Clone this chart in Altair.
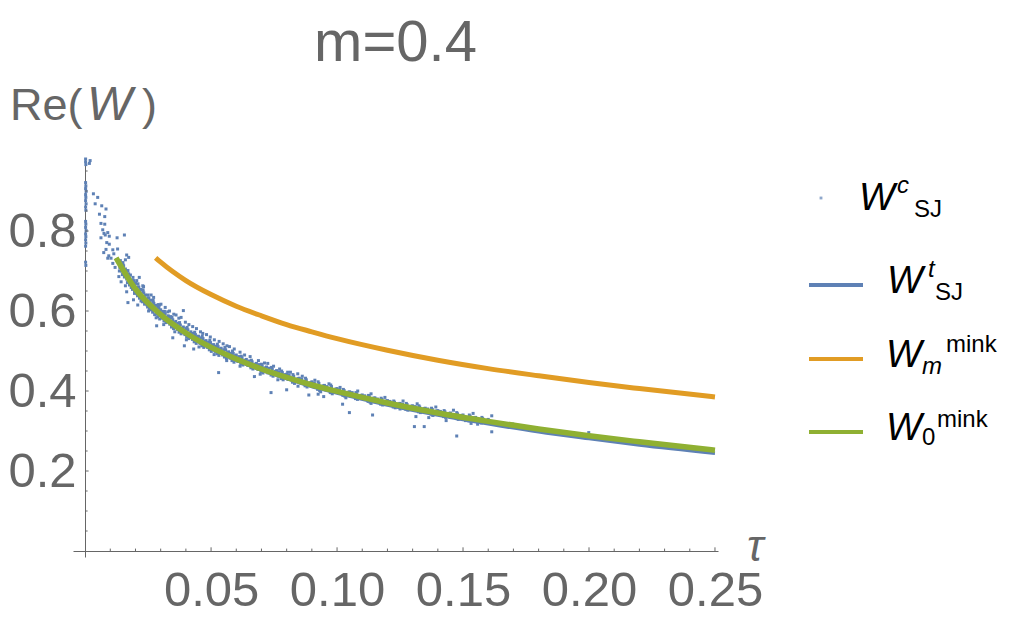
import altair as alt
import pandas as pd

FONT = "Liberation Sans"
GRAY = "#666666"
BLUE = "#5E81B5"
ORANGE = "#E19C24"
GREEN = "#8FB032"

# ---------------- data ----------------
title_text = "m=0.4"

# W_0^mink (green)
tau_w0 = [0.0123, 0.02, 0.03, 0.04, 0.05, 0.06, 0.07, 0.08, 0.09, 0.10,
          0.12, 0.14, 0.16, 0.18, 0.20, 0.22, 0.25]
w0_mink = [0.733, 0.655, 0.591, 0.545, 0.509, 0.480, 0.455, 0.434, 0.415, 0.399,
           0.370, 0.345, 0.324, 0.305, 0.288, 0.273, 0.252]

# W^t_SJ (blue)
tau_t = [0.0123, 0.02, 0.03, 0.04, 0.05, 0.06, 0.07, 0.08, 0.09, 0.10,
         0.12, 0.14, 0.16, 0.18, 0.20, 0.22, 0.25]
wt_sj = [0.732, 0.654, 0.589, 0.543, 0.507, 0.477, 0.452, 0.431, 0.411, 0.395,
         0.365, 0.340, 0.318, 0.298, 0.281, 0.265, 0.2445]

# W_m^mink (orange)
tau_m = [0.028, 0.03, 0.04, 0.05, 0.06, 0.07, 0.08, 0.09, 0.10, 0.12,
         0.14, 0.16, 0.18, 0.20, 0.22, 0.25]
wm_mink = [0.733, 0.722, 0.676, 0.641, 0.612, 0.588, 0.566, 0.548, 0.531, 0.502,
           0.477, 0.456, 0.438, 0.421, 0.406, 0.385]

# W^c_SJ scatter (tau, W)
scatter_axis = [
    (0.0002, 0.980), (0.0002, 0.973), (0.0003, 0.966), (0.0020, 0.976), (0.0017, 0.969),
    (0.0002, 0.921), (0.0003, 0.913), (0.0002, 0.906), (0.0004, 0.899), (0.0002, 0.891),
    (0.0003, 0.884), (0.0002, 0.876), (0.0004, 0.868), (0.0002, 0.860), (0.0003, 0.852),
    (0.0002, 0.824), (0.0003, 0.817), (0.0002, 0.809), (0.0004, 0.801), (0.0002, 0.793),
    (0.0003, 0.786), (0.0002, 0.778), (0.0003, 0.770), (0.0002, 0.762),
    (0.0002, 0.722), (0.0003, 0.714),
]
scatter_head = [
    (0.0033, 0.893), (0.0050, 0.884), (0.0040, 0.868), (0.0066, 0.863), (0.0083, 0.855),
    (0.0057, 0.842), (0.0078, 0.836), (0.0063, 0.819), (0.0078, 0.817), (0.0070, 0.803),
    (0.0090, 0.796), (0.0075, 0.794), (0.0080, 0.790), (0.0096, 0.787), (0.0063, 0.783),
    (0.0127, 0.783), (0.0156, 0.790), (0.0086, 0.771), (0.0096, 0.767), (0.0074, 0.746),
    (0.0083, 0.754), (0.0110, 0.753), (0.0129, 0.755), (0.0094, 0.738), (0.0114, 0.743),
    (0.0103, 0.732), (0.0090, 0.732), (0.0110, 0.719), (0.0165, 0.740), (0.0173, 0.734),
    (0.0160, 0.728), (0.0119, 0.709), (0.0150, 0.713), (0.0136, 0.700), (0.0163, 0.700),
    (0.0134, 0.686), (0.0150, 0.693), (0.0143, 0.673), (0.0176, 0.678), (0.0160, 0.663),
    (0.0183, 0.659), (0.0200, 0.669), (0.0215, 0.684), (0.0165, 0.648), (0.0196, 0.644),
    (0.0222, 0.653), (0.0229, 0.663), (0.0170, 0.621), (0.0192, 0.628), (0.0209, 0.615),
    (0.0229, 0.636), (0.0242, 0.623), (0.0255, 0.608), (0.0262, 0.603), (0.0282, 0.603),
    (0.0295, 0.615), (0.0288, 0.594), (0.0308, 0.596), (0.0328, 0.598), (0.0361, 0.590),
    (0.0390, 0.601),
]
scatter_band = [
    (0.0140, 0.726), (0.0143, 0.716), (0.0138, 0.708), (0.0145, 0.700), (0.0150, 0.715),
    (0.0160, 0.705), (0.0158, 0.696), (0.0163, 0.688), (0.0165, 0.680), (0.0155, 0.699), (0.0168, 0.700),
    (0.0180, 0.690), (0.0178, 0.678), (0.0183, 0.668), (0.0185, 0.660), (0.0175, 0.684), (0.0188, 0.676),
    (0.0200, 0.670), (0.0198, 0.660), (0.0203, 0.652), (0.0206, 0.643), (0.0195, 0.664), (0.0210, 0.660),
    (0.0220, 0.654), (0.0218, 0.645), (0.0223, 0.637), (0.0226, 0.628), (0.0215, 0.650), (0.0230, 0.648),
    (0.0240, 0.640), (0.0238, 0.631), (0.0243, 0.623), (0.0246, 0.615), (0.0235, 0.636), (0.0250, 0.633),
    (0.0260, 0.627), (0.0258, 0.619), (0.0263, 0.611), (0.0266, 0.604), (0.0255, 0.623), (0.0270, 0.622),
    (0.0280, 0.614), (0.0278, 0.607), (0.0283, 0.599), (0.0286, 0.593), (0.0275, 0.611), (0.0290, 0.610),
    (0.0300, 0.603), (0.0298, 0.596), (0.0303, 0.588), (0.0306, 0.582), (0.0295, 0.600), (0.0310, 0.599),
    (0.0330, 0.588), (0.0328, 0.581), (0.0333, 0.573), (0.0336, 0.567), (0.0325, 0.585), (0.0340, 0.583),
    (0.0360, 0.574), (0.0358, 0.567), (0.0363, 0.559), (0.0366, 0.554), (0.0355, 0.571), (0.0370, 0.569),
    (0.0390, 0.560), (0.0388, 0.554), (0.0393, 0.546), (0.0396, 0.541), (0.0385, 0.557), (0.0400, 0.556),
    (0.0420, 0.548), (0.0418, 0.542), (0.0423, 0.534), (0.0426, 0.529), (0.0415, 0.545), (0.0430, 0.544),
    (0.0450, 0.537), (0.0448, 0.531), (0.0453, 0.523), (0.0456, 0.519), (0.0445, 0.534), (0.0460, 0.533),
    (0.0480, 0.526), (0.0478, 0.521), (0.0483, 0.513), (0.0486, 0.509), (0.0475, 0.524), (0.0490, 0.522),
    (0.0510, 0.516), (0.0508, 0.511), (0.0513, 0.503), (0.0516, 0.499), (0.0505, 0.514), (0.0520, 0.512),
    (0.0540, 0.507), (0.0538, 0.502), (0.0543, 0.494), (0.0546, 0.490), (0.0535, 0.505), (0.0550, 0.503),
    (0.0570, 0.498), (0.0568, 0.493), (0.0573, 0.485), (0.0576, 0.482), (0.0565, 0.496), (0.0580, 0.494),
    (0.0600, 0.490), (0.0598, 0.485), (0.0603, 0.477), (0.0606, 0.474), (0.0595, 0.488), (0.0610, 0.486),
    (0.0640, 0.479), (0.0638, 0.474), (0.0643, 0.467), (0.0646, 0.464), (0.0635, 0.477), (0.0650, 0.475),
    (0.0680, 0.469), (0.0678, 0.464), (0.0683, 0.457), (0.0686, 0.454), (0.0675, 0.467), (0.0690, 0.466),
    (0.0720, 0.460), (0.0718, 0.455), (0.0723, 0.448), (0.0726, 0.445), (0.0715, 0.458), (0.0730, 0.457),
    (0.0760, 0.451), (0.0758, 0.446), (0.0763, 0.439), (0.0766, 0.437), (0.0755, 0.449), (0.0770, 0.448),
    (0.0800, 0.442), (0.0798, 0.438), (0.0803, 0.431), (0.0806, 0.429), (0.0795, 0.441), (0.0810, 0.440),
    (0.0850, 0.432), (0.0848, 0.428), (0.0853, 0.422), (0.0856, 0.420), (0.0845, 0.431), (0.0860, 0.430),
    (0.0900, 0.423), (0.0898, 0.419), (0.0903, 0.413), (0.0906, 0.411), (0.0895, 0.421), (0.0910, 0.420),
    (0.0950, 0.414), (0.0948, 0.410), (0.0953, 0.405), (0.0956, 0.403), (0.0945, 0.413), (0.0960, 0.411),
    (0.1000, 0.406), (0.0998, 0.402), (0.1003, 0.397), (0.1006, 0.395), (0.0995, 0.405), (0.1010, 0.403),
    (0.1050, 0.398), (0.1048, 0.394), (0.1053, 0.389), (0.1056, 0.387), (0.1045, 0.397), (0.1060, 0.396),
    (0.1100, 0.390), (0.1098, 0.387), (0.1103, 0.382), (0.1106, 0.380), (0.1095, 0.389), (0.1110, 0.388),
    (0.1150, 0.383), (0.1148, 0.379), (0.1153, 0.374), (0.1156, 0.373), (0.1145, 0.382), (0.1160, 0.380),
    (0.1200, 0.376), (0.1198, 0.373), (0.1203, 0.368), (0.1206, 0.366), (0.1195, 0.375), (0.1210, 0.374),
    (0.1250, 0.369), (0.1248, 0.366), (0.1253, 0.361), (0.1256, 0.360), (0.1245, 0.368), (0.1260, 0.367),
    (0.1300, 0.363), (0.1298, 0.360), (0.1303, 0.355), (0.1306, 0.354), (0.1295, 0.362), (0.1310, 0.361),
    (0.1350, 0.357), (0.1348, 0.354), (0.1353, 0.349), (0.1356, 0.348), (0.1345, 0.356), (0.1360, 0.355),
    (0.1400, 0.351), (0.1398, 0.348), (0.1403, 0.343), (0.1406, 0.342), (0.1395, 0.350), (0.1410, 0.349),
    (0.1450, 0.345), (0.1448, 0.342), (0.1453, 0.337), (0.1456, 0.336), (0.1445, 0.344),
    (0.1500, 0.340), (0.1498, 0.337), (0.1503, 0.332), (0.1506, 0.331), (0.1495, 0.339),
    (0.1550, 0.334), (0.1548, 0.332), (0.1553, 0.327), (0.1545, 0.333),
    (0.1600, 0.329), (0.1598, 0.327), (0.1603, 0.322),
]
scatter_band_edges = [
    (0.0150, 0.721), (0.0153, 0.713), (0.0148, 0.691), (0.0156, 0.685),
    (0.0170, 0.701), (0.0173, 0.693), (0.0168, 0.671), (0.0176, 0.665),
    (0.0190, 0.684), (0.0193, 0.676), (0.0188, 0.654), (0.0196, 0.648),
    (0.0210, 0.668), (0.0213, 0.660), (0.0208, 0.638), (0.0216, 0.632),
    (0.0230, 0.653), (0.0233, 0.645), (0.0228, 0.623), (0.0236, 0.617),
    (0.0250, 0.640), (0.0253, 0.632), (0.0248, 0.610), (0.0256, 0.604),
    (0.0270, 0.627), (0.0273, 0.619), (0.0268, 0.597), (0.0276, 0.591),
    (0.0290, 0.616), (0.0293, 0.608), (0.0288, 0.586), (0.0296, 0.580),
    (0.0315, 0.599), (0.0318, 0.593), (0.0313, 0.575), (0.0321, 0.571),
    (0.0345, 0.584), (0.0348, 0.578), (0.0343, 0.560), (0.0351, 0.556),
    (0.0375, 0.571), (0.0378, 0.565), (0.0373, 0.547), (0.0381, 0.543),
    (0.0405, 0.559), (0.0408, 0.553), (0.0403, 0.535), (0.0411, 0.531),
    (0.0435, 0.547), (0.0438, 0.541), (0.0433, 0.523), (0.0441, 0.519),
    (0.0465, 0.537), (0.0468, 0.531), (0.0463, 0.513), (0.0471, 0.509),
    (0.0495, 0.527), (0.0498, 0.521), (0.0493, 0.503), (0.0501, 0.499),
    (0.0525, 0.517), (0.0528, 0.511), (0.0523, 0.493), (0.0531, 0.489),
    (0.0555, 0.509), (0.0558, 0.503), (0.0553, 0.485), (0.0561, 0.481),
    (0.0585, 0.500), (0.0588, 0.494), (0.0583, 0.476), (0.0591, 0.472),
    (0.0620, 0.487), (0.0623, 0.483), (0.0618, 0.468), (0.0626, 0.465),
    (0.0660, 0.477), (0.0663, 0.473), (0.0658, 0.458), (0.0666, 0.455),
    (0.0700, 0.467), (0.0703, 0.463), (0.0698, 0.448), (0.0706, 0.445),
    (0.0740, 0.459), (0.0743, 0.455), (0.0738, 0.440), (0.0746, 0.437),
    (0.0780, 0.450), (0.0783, 0.446), (0.0778, 0.431), (0.0786, 0.428),
    (0.0825, 0.441), (0.0828, 0.437), (0.0823, 0.422), (0.0831, 0.419),
    (0.0875, 0.432), (0.0878, 0.428), (0.0873, 0.413), (0.0881, 0.410),
    (0.0925, 0.423), (0.0928, 0.419), (0.0923, 0.404), (0.0931, 0.401),
    (0.0975, 0.415), (0.0978, 0.411), (0.0973, 0.396), (0.0981, 0.393),
    (0.1025, 0.404), (0.1028, 0.401), (0.1023, 0.389), (0.1031, 0.387),
    (0.1075, 0.396), (0.1078, 0.393), (0.1073, 0.381), (0.1081, 0.379),
    (0.1125, 0.389), (0.1128, 0.386), (0.1123, 0.374), (0.1131, 0.372),
    (0.1175, 0.382), (0.1178, 0.379), (0.1173, 0.367), (0.1181, 0.365),
    (0.1225, 0.375), (0.1228, 0.372), (0.1223, 0.360), (0.1231, 0.358),
    (0.1275, 0.369), (0.1278, 0.366), (0.1273, 0.354), (0.1281, 0.352),
    (0.1325, 0.363), (0.1328, 0.360), (0.1323, 0.348), (0.1331, 0.346),
    (0.1375, 0.357), (0.1378, 0.354), (0.1373, 0.342), (0.1381, 0.340),
    (0.1425, 0.351), (0.1428, 0.348), (0.1423, 0.336), (0.1431, 0.334),
    (0.1475, 0.346), (0.1478, 0.343), (0.1473, 0.331), (0.1481, 0.329),
    (0.1525, 0.340), (0.1528, 0.337), (0.1523, 0.325),
    (0.1575, 0.334), (0.1578, 0.331), (0.1573, 0.320),
]
scatter_sparse = [
    (0.0205, 0.676), (0.0232, 0.661), (0.0262, 0.640), (0.0272, 0.634), (0.0301, 0.617),
    (0.0318, 0.609), (0.0335, 0.600), (0.0352, 0.592), (0.0372, 0.582), (0.0398, 0.572),
    (0.0412, 0.566), (0.0442, 0.556), (0.0458, 0.548), (0.0482, 0.541), (0.0497, 0.535),
    (0.0532, 0.524), (0.0548, 0.518), (0.0563, 0.513), (0.0592, 0.505), (0.0615, 0.497),
    (0.0633, 0.490), (0.0655, 0.486), (0.0688, 0.476), (0.0712, 0.470), (0.0748, 0.462),
    (0.0772, 0.455), (0.0815, 0.447), (0.0862, 0.437), (0.0912, 0.427), (0.0968, 0.418),
    (0.1012, 0.409), (0.1082, 0.400), (0.1135, 0.393), (0.1190, 0.384), (0.1262, 0.375),
    (0.1318, 0.368), (0.1392, 0.360), (0.1462, 0.352), (0.1540, 0.344),
    (0.0222, 0.625), (0.0252, 0.600), (0.0282, 0.583), (0.0312, 0.566), (0.0356, 0.548),
    (0.0402, 0.528), (0.0452, 0.510), (0.0512, 0.491), (0.0562, 0.476), (0.0615, 0.462),
    (0.0695, 0.442), (0.0765, 0.428), (0.0845, 0.412), (0.0935, 0.398), (0.1035, 0.383),
    (0.1135, 0.369), (0.1250, 0.355), (0.1380, 0.339), (0.1510, 0.326),
]
scatter_outliers = [
    (0.0530, 0.446), (0.0738, 0.396), (0.0800, 0.403), (0.0888, 0.390), (0.0672, 0.436),
    (0.0394, 0.513), (0.0431, 0.505), (0.0348, 0.533), (0.0284, 0.563),
    (0.0381, 0.584), (0.0339, 0.586), (0.0513, 0.528), (0.0573, 0.511), (0.0427, 0.561),
    (0.0467, 0.544), (0.0725, 0.469), (0.0804, 0.447), (0.0844, 0.443),
    (0.0925, 0.392), (0.0947, 0.386), (0.1022, 0.367), (0.1049, 0.346), (0.1141, 0.340),
    (0.1313, 0.336), (0.1307, 0.311), (0.1346, 0.311), (0.1475, 0.2875), (0.1614, 0.298),
    (0.1614, 0.338), (0.1697, 0.3175), (0.1999, 0.296), (0.1433, 0.326), (0.1532, 0.319),
    (0.1558, 0.317), (0.1364, 0.3335),
]

# axis tick values / labels
x_labels = [0.05, 0.10, 0.15, 0.20, 0.25]
y_labels = [0.2, 0.4, 0.6, 0.8]
x_ticks_major = [0.05, 0.10, 0.15, 0.20, 0.25]
x_ticks_minor = [0.01, 0.02, 0.03, 0.04, 0.06, 0.07, 0.08, 0.09, 0.11, 0.12, 0.13, 0.14,
                 0.16, 0.17, 0.18, 0.19, 0.21, 0.22, 0.23, 0.24]
y_ticks_major = [0.2, 0.4, 0.6, 0.8]
y_ticks_minor = [0.05, 0.10, 0.15, 0.25, 0.30, 0.35, 0.45, 0.50, 0.55, 0.65, 0.70,
                 0.75, 0.85, 0.90, 0.95]

axis_x_title = "τ"
axis_y_title = ["Re(", "W", ")"]
legend_labels = [("W", "c", "SJ"), ("W", "t", "SJ"), ("W", "m", "mink"), ("W", "0", "mink")]

# ---------------- chart ----------------
df_pts = pd.DataFrame(scatter_axis + scatter_head + scatter_band + scatter_band_edges
                      + scatter_sparse + scatter_outliers, columns=["tau", "W"])
df_t = pd.DataFrame({"tau": tau_t, "W": wt_sj})
df_m = pd.DataFrame({"tau": tau_m, "W": wm_mink})
df_0 = pd.DataFrame({"tau": tau_w0, "W": w0_mink})
one = pd.DataFrame({"k": [0]})

x_scale = alt.Scale(domain=[-0.0048, 0.2512], nice=False, zero=False)
y_scale = alt.Scale(domain=[-0.015, 0.9825], nice=False, zero=False)

x_axis = alt.Axis(orient="bottom", values=x_labels, format=".2f", title=None, offset=-6,
                  ticks=False, tickSize=0, grid=False, domain=True, domainColor=GRAY,
                  domainWidth=1, labelFont=FONT, labelFontSize=49, labelColor=GRAY,
                  labelPadding=15, labelFlush=False, labelOverlap=False)
y_axis = alt.Axis(orient="left", values=y_labels, format=".1f", title=None, offset=-12,
                  ticks=False, tickSize=0, grid=False, domain=True, domainColor=GRAY,
                  domainWidth=1, labelFont=FONT, labelFontSize=49, labelColor=GRAY,
                  labelPadding=9, labelOffset=0, labelOverlap=False)

scatter = alt.Chart(df_pts).mark_square(size=9, color=BLUE, opacity=1, strokeWidth=0).encode(
    x=alt.X("tau:Q", scale=x_scale, axis=x_axis),
    y=alt.Y("W:Q", scale=y_scale, axis=y_axis),
)


def curve(df, color, width):
    return alt.Chart(df).mark_line(color=color, strokeWidth=width, interpolate="monotone").encode(
        x=alt.X("tau:Q", scale=x_scale, axis=x_axis),
        y=alt.Y("W:Q", scale=y_scale, axis=y_axis),
    )


def xticks(vals, length):
    return alt.Chart(pd.DataFrame({"tau": vals})).mark_rule(color=GRAY, strokeWidth=1).encode(
        x=alt.X("tau:Q", scale=x_scale, axis=x_axis),
        y=alt.YDatum(0.0, scale=y_scale, axis=y_axis),
        y2=alt.Y2Datum(length),
    )


def yticks(vals, length):
    return alt.Chart(pd.DataFrame({"W": vals})).mark_rule(color=GRAY, strokeWidth=1).encode(
        y=alt.Y("W:Q", scale=y_scale, axis=y_axis),
        x=alt.XDatum(0.0, scale=x_scale, axis=x_axis),
        x2=alt.X2Datum(length),
    )


def txt(s, x, y, size, italic=False, color="black", align="left"):
    return alt.Chart(one).mark_text(
        text=s, font=FONT, fontSize=size, fontStyle="italic" if italic else "normal",
        color=color, align=align, baseline="alphabetic",
    ).encode(x=alt.value(x), y=alt.value(y))


def legend_line(color, y):
    return alt.Chart(one).mark_rule(color=color, strokeWidth=4).encode(
        x=alt.value(736), x2=alt.value(790), y=alt.value(y))


layers = [
    scatter,
    curve(df_t, BLUE, 3.5),
    curve(df_m, ORANGE, 5),
    curve(df_0, GREEN, 5.5),
    xticks(x_ticks_major, 0.0092),
    xticks(x_ticks_minor, 0.006),
    yticks(y_ticks_major, 0.0014),
    yticks(y_ticks_minor, 0.001),
    # title and axis labels
    txt(title_text, 322.5, -97, 58, color=GRAY, align="center"),
    txt(axis_y_title[0], -63, -38, 45, color=GRAY),
    txt(axis_y_title[1], 14, -38, 48, italic=True, color=GRAY),
    txt(axis_y_title[2], 69, -38, 45, color=GRAY),
    txt(axis_x_title, 674, 403, 44, italic=True, color=GRAY),
    # legend
    alt.Chart(one).mark_square(size=8, color=BLUE, strokeWidth=0).encode(
        x=alt.value(748), y=alt.value(40)),
    txt(legend_labels[0][0], 786, 52, 38, italic=True),
    txt(legend_labels[0][1], 824, 35, 24, italic=True),
    txt(legend_labels[0][2], 841, 59, 24),
    legend_line(BLUE, 127),
    txt(legend_labels[1][0], 814, 135, 38, italic=True),
    txt(legend_labels[1][1], 855, 119, 24, italic=True),
    txt(legend_labels[1][2], 862, 142, 24),
    legend_line(ORANGE, 201),
    txt(legend_labels[2][0], 813, 209, 38, italic=True),
    txt(legend_labels[2][1], 849, 216, 24, italic=True),
    txt(legend_labels[2][2], 873, 194, 24),
    legend_line(GREEN, 274),
    txt(legend_labels[3][0], 813, 282, 38, italic=True),
    txt(legend_labels[3][1], 849, 287, 24),
    txt(legend_labels[3][2], 864, 269, 24),
]

chart = alt.layer(*layers).properties(
    width=645,
    height=399,
    autosize=alt.AutoSizeParams(type="none"),
    padding={"left": 65, "top": 150, "right": 283, "bottom": 60},
).configure_view(strokeWidth=0)

chart.save("out.html", embed_options={"renderer": "svg", "actions": False})
